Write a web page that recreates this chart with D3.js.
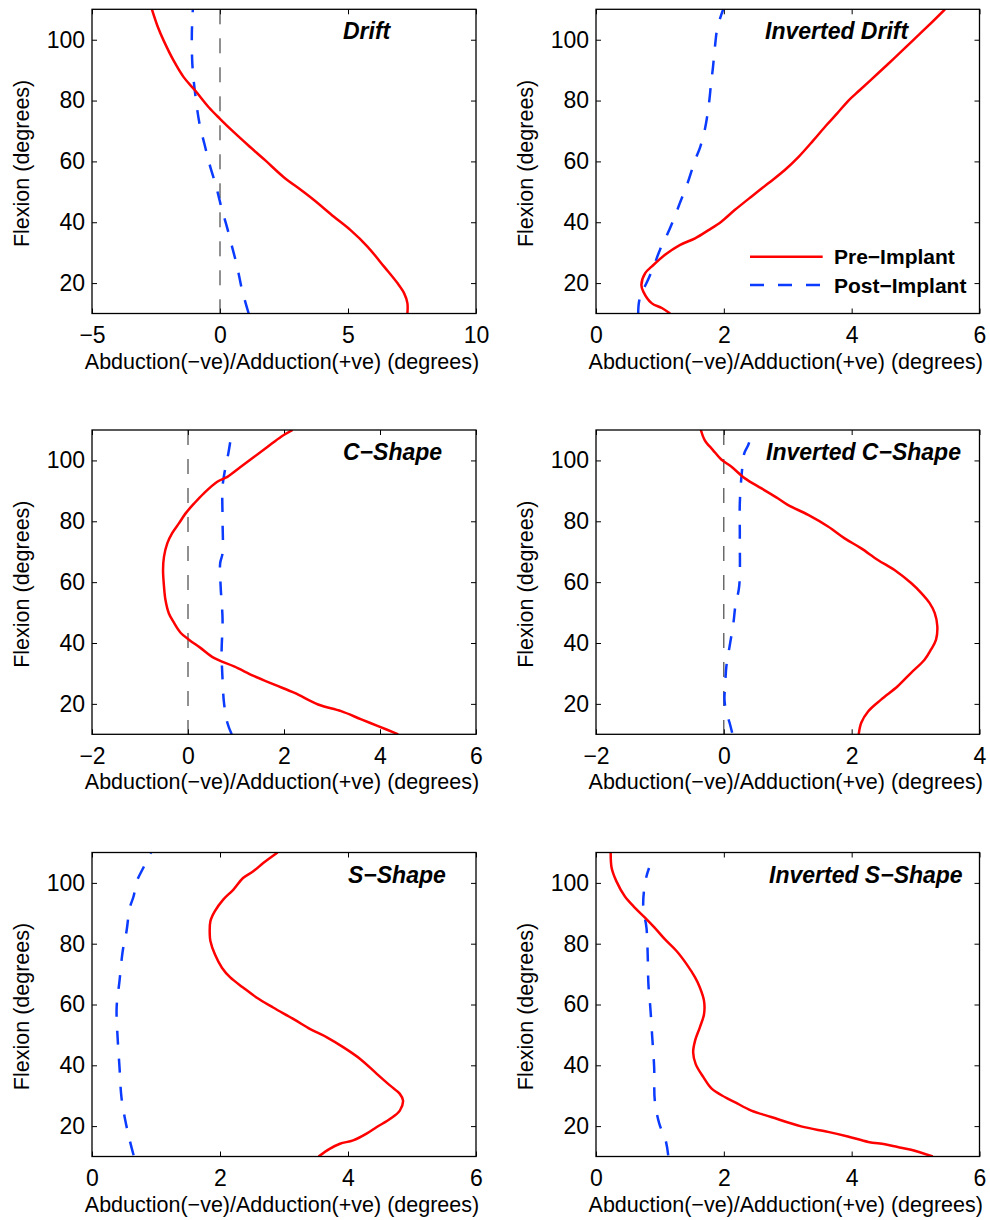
<!DOCTYPE html>
<html>
<head>
<meta charset="utf-8">
<script src="https://cdn.jsdelivr.net/npm/d3@7"></script>
<style>
  html, body { margin: 0; padding: 0; background: #fff; }
  svg { display: block; }
  text { font-family: "Liberation Sans", Arial, Helvetica, sans-serif; fill: #000; }
</style>
</head>
<body>
<svg id="chart" width="990" height="1220"></svg>
<script>
// ---------------- DATA ----------------
const panelTitles = ["Drift", "Inverted Drift", "C\u2212Shape", "Inverted C\u2212Shape", "S\u2212Shape", "Inverted S\u2212Shape"];
const xDomains = [[-5, 10], [0, 6], [-2, 6], [-2, 4], [0, 6], [0, 6]];
const xTickValues = [[-5, 0, 5, 10], [0, 2, 4, 6], [-2, 0, 2, 4, 6], [-2, 0, 2, 4], [0, 2, 4, 6], [0, 2, 4, 6]];
const yDomain = [10, 110];
const yTickValues = [20, 40, 60, 80, 100];
const seriesNames = ["Pre\u2212Implant", "Post\u2212Implant"];
const xAxisLabel = "Abduction(\u2212ve)/Adduction(+ve) (degrees)";
const yAxisLabel = "Flexion (degrees)";
const showZeroLine = [true, false, true, true, false, false];

// each point: [abduction/adduction (deg), flexion (deg)]
const driftPre = [[7.32,10],[7.32,13.4],[7.19,16.7],[6.93,20],[6.41,25.4],[5.76,32],[5.10,37.4],[4.45,41.8],[3.67,47.3],[3.18,50.5],[2.48,54.9],[1.76,60.4],[1.1,65.3],[0.54,69.6],[0,74],[-0.44,77.8],[-0.97,83.3],[-1.42,87.7],[-1.81,93.1],[-2.2,99.7],[-2.42,104],[-2.66,110]];
const driftPost = [[1.12,10],[0.86,17.8],[0.67,25.4],[0.47,32],[0.27,38.5],[0.08,44],[-0.05,48.4],[-0.18,52.7],[-0.38,58.2],[-0.61,65.8],[-0.8,72.4],[-1.0,84.4],[-1.08,92],[-1.1,101.9],[-1.06,110]];

const invDriftPre = [[1.16,10],[1.03,11.8],[0.87,13.4],[0.74,17.2],[0.71,19.4],[0.77,23.3],[0.87,25.4],[1.08,29.3],[1.31,32.5],[1.55,34.7],[1.76,37.4],[1.96,40.2],[2.17,44],[2.43,48.4],[2.69,52.7],[2.95,57.1],[3.17,61.5],[3.4,66.9],[3.6,71.8],[3.77,75.7],[3.95,80],[4.12,83.3],[4.43,89.3],[4.68,94.2],[4.98,100.2],[5.2,104.6],[5.46,110]];
const invDriftPost = [[0.66,10],[0.67,13.4],[0.71,16.7],[0.79,20],[0.9,25.4],[1.0,30.9],[1.1,35.3],[1.21,40.7],[1.31,46.2],[1.43,52.7],[1.55,60.4],[1.63,64.7],[1.7,70.2],[1.76,77.8],[1.8,85.5],[1.83,90.9],[1.86,97.5],[1.9,104],[1.99,110]];

const cShapePre = [[4.38,10],[3.96,12.7],[3.61,14.9],[3.19,17.6],[2.71,19.8],[2.22,23.6],[1.8,26.3],[1.38,29.1],[0.96,32.3],[0.54,35.1],[0.26,38.4],[0.02,41.1],[-0.15,43.3],[-0.29,46.6],[-0.4,49.8],[-0.47,54.2],[-0.5,58.6],[-0.52,64],[-0.5,68.4],[-0.43,72.8],[-0.33,76.1],[-0.19,79.3],[-0.05,82.6],[0.13,85.9],[0.33,89.2],[0.61,93],[0.82,94.6],[1.1,97.9],[1.38,101.2],[1.66,104.5],[1.94,107.8],[2.18,110]];
const cShapePost = [[0.91,10],[0.82,13.8],[0.75,20.3],[0.72,28],[0.7,36.7],[0.72,47.7],[0.68,58.6],[0.67,66.2],[0.72,69.5],[0.72,80.4],[0.72,91.4],[0.77,96.8],[0.84,102.3],[0.88,106.1]];

const invCShapePre = [[2.11,10],[2.15,13.8],[2.26,17.6],[2.46,21.4],[2.72,25.8],[2.93,30.2],[3.14,34.5],[3.24,37.8],[3.32,41.1],[3.34,45.5],[3.3,49.8],[3.22,53.1],[3.09,56.4],[2.93,59.7],[2.67,64],[2.41,67.3],[2.15,71.1],[1.89,74.4],[1.63,78.3],[1.32,82.1],[1.0,85.4],[0.85,87.5],[0.59,90.8],[0.33,94.1],[0.12,97.9],[-0.04,100.3],[-0.17,103.4],[-0.3,106.7],[-0.36,110]];
const invCShapePost = [[0.13,10.5],[0.09,13.8],[0.04,17.1],[0.01,21.4],[0.02,25.8],[0.04,32.4],[0.09,38.9],[0.15,46.6],[0.18,52.1],[0.24,58.6],[0.25,75],[0.25,85.9],[0.28,95.7],[0.32,102.3],[0.38,105],[0.46,110]];

const sShapePre = [[3.54,10],[3.72,12.6],[3.875,14.2],[4.08,15.3],[4.29,17.5],[4.45,19.7],[4.66,22.4],[4.81,25.1],[4.86,28.4],[4.81,30.6],[4.66,33.3],[4.45,37.2],[4.19,42.1],[3.93,45.9],[3.67,49.2],[3.41,51.9],[3.15,55.2],[2.83,59],[2.57,62.3],[2.36,65.6],[2.16,68.9],[2.03,72.1],[1.92,76.5],[1.85,80.9],[1.84,83.1],[1.85,87.4],[1.92,90.7],[2.05,94.5],[2.21,97.8],[2.36,101.6],[2.52,103.8],[2.68,106.6],[2.9,110]];
const sShapePost = [[0.65,10.4],[0.59,15.3],[0.52,21.9],[0.46,29.5],[0.43,39.3],[0.4,49.2],[0.385,59],[0.43,67.8],[0.48,77.6],[0.54,84.2],[0.59,91.8],[0.65,95.6],[0.7,100.5],[0.8,104.9],[0.92,110]];

const invSShapePre = [[5.27,10],[4.93,12.2],[4.72,13.1],[4.52,14],[4.26,14.8],[3.94,16.6],[3.63,18.1],[3.21,19.9],[2.74,23],[2.43,25.1],[2.17,27.9],[2.02,29.5],[1.81,32.3],[1.68,36.1],[1.56,40.4],[1.52,44.3],[1.55,48.1],[1.625,52.5],[1.69,56.8],[1.69,61.2],[1.625,65.6],[1.55,68.9],[1.42,73.2],[1.26,77.6],[1.08,81.4],[0.92,85.2],[0.77,88.5],[0.61,91.8],[0.45,95.6],[0.32,100.5],[0.245,104.9],[0.23,110]];
const invSShapePost = [[1.13,10.4],[1.09,15.3],[0.99,20.8],[0.92,28.4],[0.91,39.3],[0.88,49.2],[0.85,59],[0.82,66.7],[0.81,75.4],[0.79,85.2],[0.74,91.8],[0.75,97.3],[0.79,102.2],[0.83,104.9]];

const preSeries = [driftPre, invDriftPre, cShapePre, invCShapePre, sShapePre, invSShapePre];
const postSeries = [driftPost, invDriftPost, cShapePost, invCShapePost, sShapePost, invSShapePost];

// ---------------- LAYOUT ----------------
const cols = [{x0: 92, x1: 476}, {x0: 596, x1: 979.5}];
const rows = [{y0: 9.3, y1: 313.5}, {y0: 430, y1: 734.3}, {y0: 852.5, y1: 1156.5}];
const titleOffsets = [251, 169, 251, 170, 256, 173];
const colorPre = "#ff0000";
const colorPost = "#0a3bff";
const dashPost = "14,14";
const fmt = d3.format("d");

const svg = d3.select("#chart");

for (let i = 0; i < 6; i++) {
  const c = cols[i % 2], r = rows[Math.floor(i / 2)];
  const x = d3.scaleLinear().domain(xDomains[i]).range([c.x0, c.x1]);
  const y = d3.scaleLinear().domain(yDomain).range([r.y1, r.y0]);
  const g = svg.append("g");

  const clipId = "clip" + i;
  svg.append("clipPath").attr("id", clipId).append("rect")
    .attr("x", c.x0).attr("y", r.y0).attr("width", c.x1 - c.x0).attr("height", r.y1 - r.y0);

  // axes with inward ticks
  const xb = g.append("g").attr("transform", `translate(0,${r.y1})`)
    .call(d3.axisBottom(x).tickValues(xTickValues[i]).tickFormat(fmt).tickSizeInner(-5).tickSizeOuter(0).tickPadding(13));
  const xt = g.append("g").attr("transform", `translate(0,${r.y0})`)
    .call(d3.axisTop(x).tickValues(xTickValues[i]).tickSizeInner(-5).tickSizeOuter(0).tickFormat(""));
  const yl = g.append("g").attr("transform", `translate(${c.x0},0)`)
    .call(d3.axisLeft(y).tickValues(yTickValues).tickFormat(fmt).tickSizeInner(-5).tickSizeOuter(0).tickPadding(7));
  const yr = g.append("g").attr("transform", `translate(${c.x1},0)`)
    .call(d3.axisRight(y).tickValues(yTickValues).tickSizeInner(-5).tickSizeOuter(0).tickFormat(""));
  [xb, xt, yl, yr].forEach(a => {
    a.select(".domain").remove();
    a.selectAll("line").attr("stroke", "#000").attr("stroke-width", 1);
    a.selectAll("text").style("font-size", "23px").attr("fill", "#000")
      .style("font-family", '"Liberation Sans", Arial, Helvetica, sans-serif');
  });

  const plot = g.append("g").attr("clip-path", `url(#${clipId})`);

  if (showZeroLine[i]) {
    plot.append("line")
      .attr("x1", x(0)).attr("x2", x(0)).attr("y1", y(yDomain[1])).attr("y2", y(yDomain[0]))
      .attr("stroke", "#222").attr("stroke-width", 1).attr("stroke-dasharray", "15,14");
  }

  const line = d3.line().x(d => x(d[0])).y(d => y(d[1])).curve(d3.curveCatmullRom.alpha(0.5));
  const sortF = arr => arr.slice().sort((a, b) => a[1] - b[1]);

  plot.append("path").datum(sortF(postSeries[i])).attr("d", line)
    .attr("fill", "none").attr("stroke", colorPost).attr("stroke-width", 2.5)
    .attr("stroke-dasharray", dashPost);
  plot.append("path").datum(sortF(preSeries[i])).attr("d", line)
    .attr("fill", "none").attr("stroke", colorPre).attr("stroke-width", 2.5);

  // frame
  g.append("rect").attr("x", c.x0).attr("y", r.y0)
    .attr("width", c.x1 - c.x0).attr("height", r.y1 - r.y0)
    .attr("fill", "none").attr("stroke", "#000").attr("stroke-width", 1.3);

  // title
  g.append("text").attr("x", c.x0 + titleOffsets[i]).attr("y", r.y0 + 30)
    .style("font-size", "23px").style("font-weight", "bold").style("font-style", "italic")
    .text(panelTitles[i]);

  // axis labels
  g.append("text").attr("x", (c.x0 + c.x1) / 2 - 2).attr("y", r.y1 + 55)
    .attr("text-anchor", "middle").style("font-size", "21.5px").text(xAxisLabel);
  g.append("text")
    .attr("transform", `translate(${c.x0 - 63},${(r.y0 + r.y1) / 2 + 2}) rotate(-90)`)
    .attr("text-anchor", "middle").style("font-size", "21.5px").text(yAxisLabel);

  // legend in the Inverted Drift panel
  if (i === 1) {
    const lg = g.append("g");
    const items = [
      {name: seriesNames[0], color: colorPre, dash: null, dy: 247.4},
      {name: seriesNames[1], color: colorPost, dash: dashPost, dy: 275.7}
    ];
    items.forEach(it => {
      lg.append("line").attr("x1", c.x0 + 154).attr("x2", c.x0 + 226.7)
        .attr("y1", r.y0 + it.dy).attr("y2", r.y0 + it.dy)
        .attr("stroke", it.color).attr("stroke-width", 2.5)
        .attr("stroke-dasharray", it.dash);
      lg.append("text").attr("x", c.x0 + 238).attr("y", r.y0 + it.dy + 7.5)
        .style("font-size", "21px").style("font-weight", "bold").text(it.name);
    });
  }
}
</script>
</body>
</html>
